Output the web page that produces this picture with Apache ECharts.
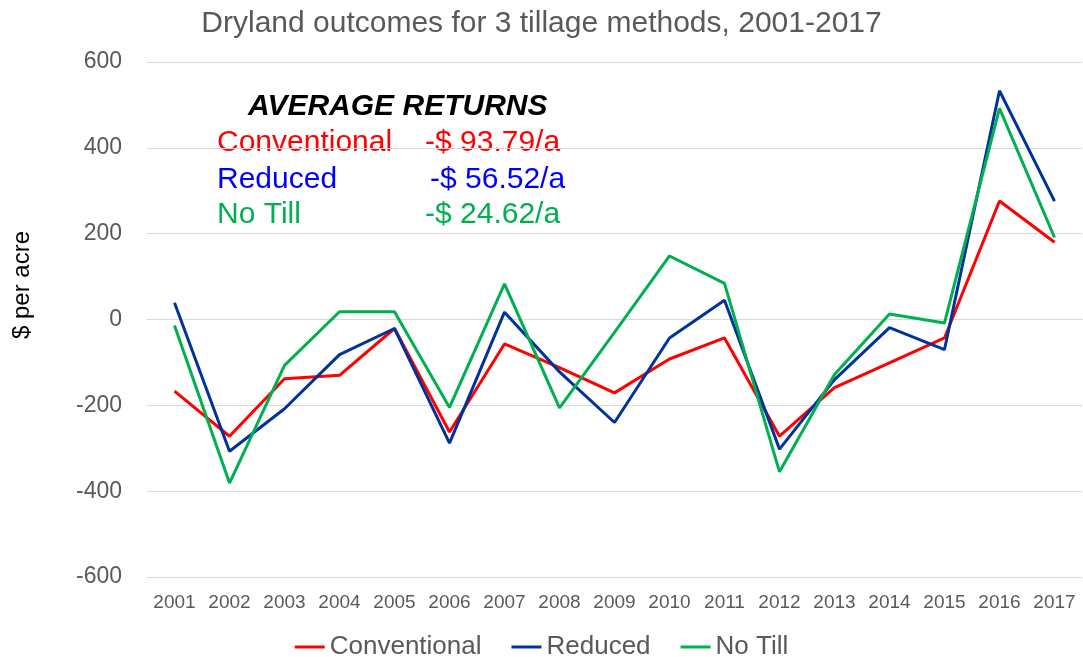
<!DOCTYPE html>
<html>
<head>
<meta charset="utf-8">
<title>Dryland outcomes</title>
<script src="https://cdn.jsdelivr.net/npm/echarts@6/dist/echarts.min.js"></script>
<style>
  html, body { margin: 0; padding: 0; background: #fff; }
  #main { width: 1083px; height: 657px; }
</style>
</head>
<body>
<div id="main"></div>
<script>
// data
var years = ['2001', '2002', '2003', '2004', '2005', '2006', '2007', '2008', '2009',
             '2010', '2011', '2012', '2013', '2014', '2015', '2016', '2017'];
var conventional = [-167, -272, -138, -130, -21, -262, -57, -112, -171, -92, -43, -272, -159, -101, -43, 276, 180];
var reduced      = [39, -307, -208, -82, -21, -288, 17, -122, -240, -43, 45, -302, -140, -19, -70, 533, 276];
var noTill       = [-14, -381, -107, 18, 18, -205, 83, -206, -30, 148, 84, -355, -128, 13, -8, 492, 191];
var averageText  = ['-$ 93.79/a', '-$ 56.52/a', '-$ 24.62/a'];

var myChart = echarts.init(document.getElementById('main'));
var font = '"Liberation Sans", Arial, sans-serif';

option = {
    backgroundColor: '#fff',
    title: {
        text: 'Dryland outcomes for 3 tillage methods, 2001-2017',
        left: 'center',
        top: 4,
        textStyle: { color: '#595959', fontSize: 30, fontWeight: 'normal', fontFamily: font }
    },
    legend: {
        bottom: -8,
        left: 'center',
        itemWidth: 30,
        itemHeight: 3,
        itemGap: 30,
        icon: 'rect',
        textStyle: { color: '#595959', fontSize: 26, fontFamily: font },
        data: ['Conventional', 'Reduced', 'No Till']
    },
    grid: { left: 147, right: 1, top: 62, bottom: 80 },
    xAxis: {
        type: 'category',
        data: years,
        boundaryGap: true,
        axisLine: { lineStyle: { color: '#d9d9d9' } },
        axisTick: { show: false },
        axisLabel: { color: '#595959', fontSize: 19, fontFamily: font, margin: 16, interval: 0 }
    },
    yAxis: {
        type: 'value',
        min: -600,
        max: 600,
        interval: 200,
        axisLine: { show: false },
        axisTick: { show: false },
        axisLabel: { color: '#595959', fontSize: 23, fontFamily: font, margin: 25 },
        splitLine: { lineStyle: { color: '#d9d9d9', width: 1 } }
    },
    graphic: [
        { type: 'text', x: 22, y: 285, rotation: Math.PI / 2,
          style: { text: '$ per acre', fill: '#000', font: '24px ' + font,
                   align: 'center', verticalAlign: 'middle' } },
        { type: 'text', left: 248, top: 92,
          style: { text: 'AVERAGE RETURNS', fill: '#000', font: 'italic bold 30px ' + font } },
        { type: 'text', left: 217, top: 128,
          style: { text: 'Conventional', fill: '#ff0000', font: '30px ' + font } },
        { type: 'text', left: 425, top: 128,
          style: { text: averageText[0], fill: '#ff0000', font: '30px ' + font } },
        { type: 'text', left: 217, top: 165,
          style: { text: 'Reduced', fill: '#0000ff', font: '30px ' + font } },
        { type: 'text', left: 430, top: 165,
          style: { text: averageText[1], fill: '#0000ff', font: '30px ' + font } },
        { type: 'text', left: 217, top: 200,
          style: { text: 'No Till', fill: '#00b050', font: '30px ' + font } },
        { type: 'text', left: 425, top: 200,
          style: { text: averageText[2], fill: '#00b050', font: '30px ' + font } }
    ],
    series: [
        { name: 'Conventional', type: 'line', data: conventional, symbol: 'none',
          color: '#ff0000', lineStyle: { width: 3 } },
        { name: 'Reduced', type: 'line', data: reduced, symbol: 'none',
          color: '#003399', lineStyle: { width: 3 } },
        { name: 'No Till', type: 'line', data: noTill, symbol: 'none',
          color: '#00b050', lineStyle: { width: 3 } }
    ]
};

myChart.setOption(option);
</script>
</body>
</html>
